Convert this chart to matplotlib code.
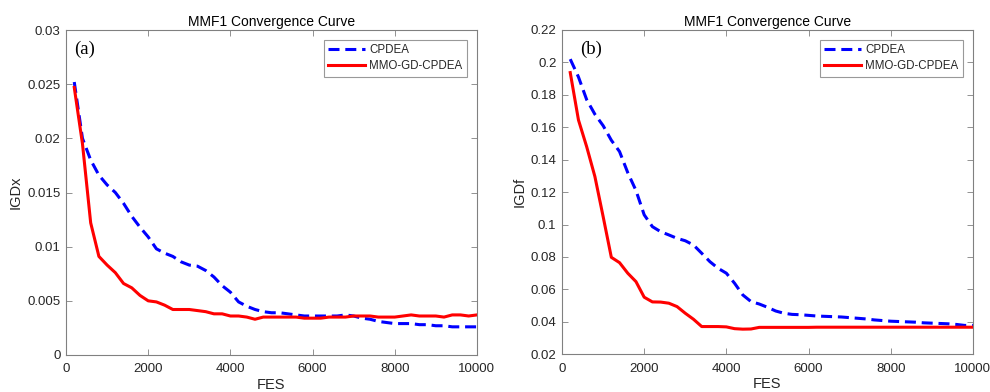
import numpy as np
import matplotlib
matplotlib.use("Agg")
import matplotlib.pyplot as plt

plt.rcParams['font.family'] = ['Liberation Sans', 'DejaVu Sans']

fes = list(range(200, 10001, 200))

igdx_cpdea = [0.0252, 0.0200, 0.0180, 0.0166, 0.0157, 0.0150, 0.0140, 0.0128, 0.0118, 0.0109,
              0.0098, 0.0094, 0.0091, 0.0086, 0.0083, 0.0082, 0.0078, 0.0072, 0.0064, 0.0058,
              0.0049, 0.0045, 0.0042, 0.0040, 0.0039, 0.0039, 0.0038, 0.0037, 0.0036, 0.0036,
              0.0036, 0.0036, 0.0036, 0.0037, 0.0036, 0.0034, 0.0033, 0.0031, 0.0030, 0.0029,
              0.0029, 0.0029, 0.0028, 0.0028, 0.0027, 0.0027, 0.0026, 0.0026, 0.0026, 0.0026]
igdx_mmo = [0.0247, 0.0195, 0.0122, 0.0091, 0.0083, 0.0076, 0.0066, 0.0062, 0.0055, 0.0050,
            0.0049, 0.0046, 0.0042, 0.0042, 0.0042, 0.0041, 0.0040, 0.0038, 0.0038, 0.0036,
            0.0036, 0.0035, 0.0033, 0.0035, 0.0035, 0.0035, 0.0035, 0.0035, 0.0034, 0.0034,
            0.0034, 0.0035, 0.0035, 0.0035, 0.0036, 0.0036, 0.0036, 0.0035, 0.0035, 0.0035,
            0.0036, 0.0037, 0.0036, 0.0036, 0.0036, 0.0035, 0.0037, 0.0037, 0.0036, 0.0037]

igdf_cpdea = [0.2020, 0.1910, 0.1770, 0.1680, 0.1610, 0.1520, 0.1450, 0.1320, 0.1210, 0.1060,
              0.0987, 0.0956, 0.0936, 0.0915, 0.0900, 0.0874, 0.0823, 0.0771, 0.0730, 0.0700,
              0.0638, 0.0566, 0.0525, 0.0510, 0.0490, 0.0467, 0.0453, 0.0446, 0.0444, 0.0440,
              0.0436, 0.0434, 0.0432, 0.0430, 0.0426, 0.0422, 0.0418, 0.0412, 0.0408, 0.0404,
              0.0402, 0.0400, 0.0398, 0.0394, 0.0392, 0.0390, 0.0388, 0.0384, 0.0378, 0.0378]
igdf_mmo = [0.1937, 0.1645, 0.1480, 0.1296, 0.1050, 0.0798, 0.0765, 0.0700, 0.0648, 0.0552,
            0.0523, 0.0522, 0.0515, 0.0494, 0.0453, 0.0416, 0.0371, 0.0371, 0.0371, 0.0369,
            0.0358, 0.0355, 0.0356, 0.0366, 0.0366, 0.0366, 0.0366, 0.0366, 0.0366, 0.0366,
            0.0367, 0.0367, 0.0367, 0.0367, 0.0367, 0.0367, 0.0367, 0.0367, 0.0367, 0.0367,
            0.0367, 0.0367, 0.0367, 0.0367, 0.0367, 0.0367, 0.0367, 0.0367, 0.0367, 0.0367]

series_names = ['CPDEA', 'MMO-GD-CPDEA']
title_text = 'MMF1 Convergence Curve'

axis_color = '#262626'
frame_color = '#808080'

fig = plt.figure(figsize=(9.9, 3.92), dpi=100)
ax1 = fig.add_axes([0.0667, 0.0944, 0.415, 0.829])
ax2 = fig.add_axes([0.5677, 0.0962, 0.415, 0.8274])


def draw_panel(ax, y_a, y_b, ylim, yticks, ytick_labels, ylabel, tag, tag_x):
    ax.plot(fes, y_a, color='#0000ff', lw=2.2, ls=(0, (3.6, 1.9)), label=series_names[0])
    ax.plot(fes, y_b, color='#ff0000', lw=2.2, ls='-', label=series_names[1])
    ax.set_xlim(0, 10000)
    ax.set_ylim(*ylim)
    ax.set_xticks([0, 2000, 4000, 6000, 8000, 10000])
    ax.set_yticks(yticks)
    ax.set_yticklabels(ytick_labels)
    ax.tick_params(axis='both', direction='in', length=4, width=0.6, top=True, right=True,
                   colors=frame_color, labelcolor=axis_color, labelsize=9.5)
    ax.tick_params(axis='x', pad=6)
    ax.tick_params(axis='y', pad=4)
    for s in ax.spines.values():
        s.set_color(frame_color)
        s.set_linewidth(0.8)
    ax.set_xlabel('FES', fontsize=10.5, color=axis_color, labelpad=2)
    ax.set_ylabel(ylabel, fontsize=10.5, color=axis_color, labelpad=3)
    ax.set_title(title_text, fontsize=10, color='black', pad=3)
    ax.text(tag_x, 0.94, tag, transform=ax.transAxes, fontsize=13.5,
            family='Liberation Serif', va='center', ha='left', color='black')
    leg = ax.legend(loc='upper right', fontsize=8.3, frameon=True, fancybox=False,
                    edgecolor=frame_color, borderpad=0.4, handlelength=3.2,
                    handletextpad=0.35, labelspacing=0.35, borderaxespad=0.85)
    leg.get_frame().set_linewidth(0.8)
    for t in leg.get_texts():
        t.set_color(axis_color)


draw_panel(ax1, igdx_cpdea, igdx_mmo, (0, 0.03),
           [0, 0.005, 0.01, 0.015, 0.02, 0.025, 0.03],
           ['0', '0.005', '0.01', '0.015', '0.02', '0.025', '0.03'], 'IGDx', '(a)', 0.02)
draw_panel(ax2, igdf_cpdea, igdf_mmo, (0.02, 0.22),
           [0.02, 0.04, 0.06, 0.08, 0.1, 0.12, 0.14, 0.16, 0.18, 0.2, 0.22],
           ['0.02', '0.04', '0.06', '0.08', '0.1', '0.12', '0.14', '0.16', '0.18', '0.2', '0.22'],
           'IGDf', '(b)', 0.045)

fig.savefig('out.png', dpi=100)
